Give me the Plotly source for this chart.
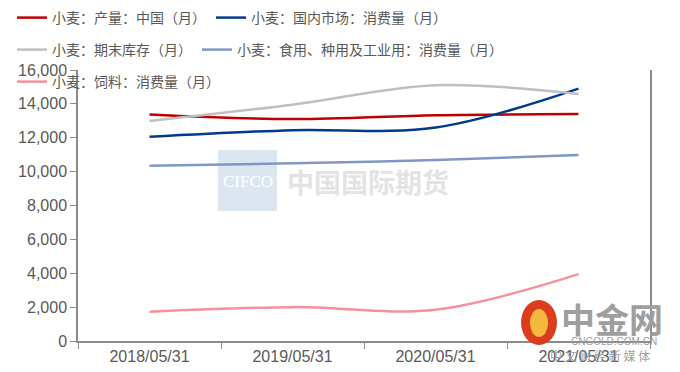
import plotly.graph_objects as go

categories = ["2018/05/31", "2019/05/31", "2020/05/31", "2021/05/31"]
production = [13380, 13100, 13330, 13400]
domestic_consumption = [12060, 12450, 12600, 14900]
ending_stock = [12990, 13950, 15100, 14580]
food_seed_industrial = [10350, 10490, 10680, 10980]
feed = [1730, 2000, 1850, 3950]

names = [
    "小麦：产量：中国（月）",
    "小麦：国内市场：消费量（月）",
    "小麦：期末库存（月）",
    "小麦：食用、种用及工业用：消费量（月）",
    "小麦：饲料：消费量（月）",
]
series = [production, domestic_consumption, ending_stock, food_seed_industrial, feed]
colors = ["#C00000", "#003A8C", "#BFBFBF", "#7F97C6", "#F4929C"]
legends = ["legend", "legend", "legend2", "legend2", "legend3"]

x_idx = list(range(len(categories)))

fig = go.Figure()
for nm, ys, c, lg in zip(names, series, colors, legends):
    fig.add_trace(go.Scatter(
        x=x_idx, y=ys, name=nm, mode="lines",
        line=dict(color=c, width=2.5, shape="spline", smoothing=1),
        legend=lg,
    ))

legend_font = dict(family="Noto Sans CJK SC", size=14, color="#595959")
H = 372.0
W = 680.0

def leg(ypix):
    return dict(
        orientation="h", xref="container", yref="container",
        x=12 / W, xanchor="left", y=1 - ypix / H, yanchor="middle",
        font=legend_font, bgcolor="rgba(0,0,0,0)", borderwidth=0,
        itemwidth=30,
    )

axis_font = dict(family="Liberation Sans", size=16, color="#595959")

PL, PR, PT, PB = 78, 650, 70, 341
PW, PH = PR - PL, PB - PT

def px(x):
    return (x - PL) / PW

def py(y):
    return (PB - y) / PH

fig.update_layout(
    width=680, height=372,
    margin=dict(l=PL, r=W - PR, t=PT, b=H - PB, autoexpand=False),
    paper_bgcolor="white", plot_bgcolor="white",
    showlegend=True,
    legend=leg(18),
    legend2=leg(50),
    legend3=leg(82),
    xaxis=dict(
        range=[-0.5, 3.5], tickmode="array", tickvals=x_idx, ticktext=categories,
        ticks="", showline=True, linecolor="#8C8C8C", linewidth=1.5,
        showgrid=False, zeroline=False, tickfont=axis_font,
        minor=dict(tick0=-0.5, dtick=1, ticks="outside", ticklen=6,
                   tickcolor="#8C8C8C", showgrid=False),
        fixedrange=True,
    ),
    yaxis=dict(
        range=[0, 16000], tickmode="linear", tick0=0, dtick=2000,
        tickformat=",d", ticks="outside", ticklen=6, tickcolor="#8C8C8C",
        showline=True, linecolor="#8C8C8C", linewidth=1.5, mirror=True,
        showgrid=False, zeroline=False, tickfont=axis_font,
    ),
)

def note(x, y, text, font):
    fig.add_annotation(xref="paper", yref="paper", x=px(x), y=py(y),
                       xanchor="center", yanchor="middle",
                       text=text, showarrow=False, font=font)

# CIFCO watermark
fig.add_shape(type="rect", xref="paper", yref="paper",
              x0=px(218), x1=px(277), y0=py(211), y1=py(150),
              fillcolor="#DCE6F1", line=dict(width=0), layer="below")
note(248, 181, "CIFCO", dict(family="Liberation Serif", size=17, color="white"))
note(368, 181, "<b>中国国际期货</b>",
     dict(family="Noto Sans CJK SC", size=27, color="#E3E3E3"))

# cngold watermark
fig.add_shape(type="circle", xref="paper", yref="paper",
              x0=px(521), x1=px(557), y0=py(345), y1=py(300),
              fillcolor="#DA3C1C", line=dict(width=0), layer="above")
fig.add_shape(type="circle", xref="paper", yref="paper",
              x0=px(530), x1=px(548), y0=py(337), y1=py(309),
              fillcolor="#F5B83E", line=dict(width=0), layer="above")
note(612, 318, "<b>中金网</b>", dict(family="Noto Sans CJK SC", size=34, color="#9E9E9E"))
note(614, 341, "CNGOLD.COM.CN", dict(family="Liberation Sans", size=10, color="#9E9E9E"))
note(600, 355, "中 文 财 经 新 媒 体", dict(family="Noto Sans CJK SC", size=12, color="#9E9E9E"))

fig.write_html("out.html")
